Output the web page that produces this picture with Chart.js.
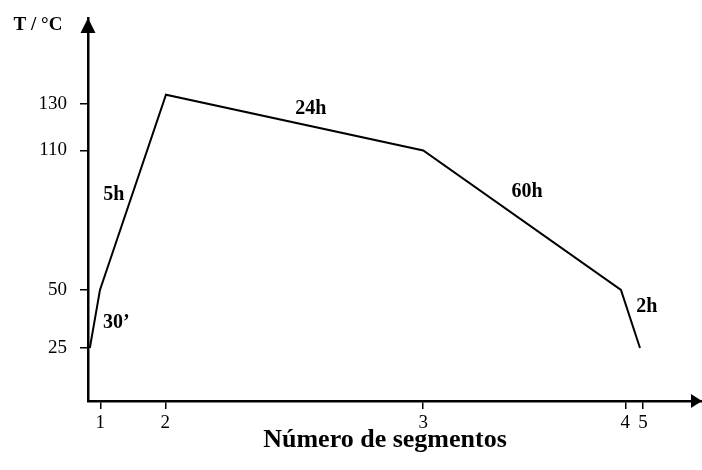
<!DOCTYPE html>
<html><head><meta charset="utf-8">
<script src="https://cdn.jsdelivr.net/npm/chart.js@4/dist/chart.umd.min.js"></script>
<style>html,body{margin:0;padding:0;background:#fff}#wrap{width:702px;height:470px;position:relative}</style>
</head><body><div id="wrap"><canvas id="c"></canvas></div>
<script>
// Data (schematic x positions along the time axis, temperature in °C)
const segmentTickLabels = ['1', '2', '3', '4', '5'];
const segmentTickPositions = [2.0, 12.6, 54.6, 87.5, 90.4];
const pointX = [0.3, 1.95, 12.7, 54.6, 86.8, 89.9];
const temperature = [25, 50, 134, 110, 50, 25];
const temperatureTicks = [25, 50, 110, 130];
const segmentDurations = ['30’', '5h', '24h', '60h', '2h'];
const durationX = [4.6, 4.2, 36.3, 71.5, 91.0];
const durationY = [36, 91, 128, 92, 42.6];

const SERIF = '"Liberation Serif", "Times New Roman", serif';

const annotations = {
  id: 'annotations',
  afterDraw(chart) {
    const {ctx, chartArea, scales} = chart;
    ctx.save();
    ctx.fillStyle = '#000';
    // axis arrows
    ctx.beginPath();
    ctx.moveTo(chartArea.left, chartArea.top);
    ctx.lineTo(chartArea.left - 7.5, chartArea.top + 15);
    ctx.lineTo(chartArea.left + 7.5, chartArea.top + 15);
    ctx.closePath();
    ctx.fill();
    ctx.beginPath();
    ctx.moveTo(chartArea.right, chartArea.bottom);
    ctx.lineTo(chartArea.right - 11, chartArea.bottom - 7);
    ctx.lineTo(chartArea.right - 11, chartArea.bottom + 7);
    ctx.closePath();
    ctx.fill();
    // segment duration labels
    ctx.font = 'bold 20px ' + SERIF;
    ctx.textAlign = 'center';
    ctx.textBaseline = 'middle';
    segmentDurations.forEach((t, i) => {
      ctx.fillText(t, scales.x.getPixelForValue(durationX[i]), scales.y.getPixelForValue(durationY[i]));
    });
    // axis titles
    ctx.font = 'bold 19px ' + SERIF;
    ctx.fillText('T / °C', 38, chartArea.top + 7);
    ctx.font = 'bold 26px ' + SERIF;
    ctx.fillText('Número de segmentos', 385, chartArea.bottom + 39);
    ctx.restore();
  }
};

new Chart(document.getElementById('c'), {
  type: 'scatter',
  data: {
    datasets: [{
      data: pointX.map((x, i) => ({x, y: temperature[i]})),
      showLine: true,
      borderColor: '#000',
      borderWidth: 2,
      pointRadius: 0,
      tension: 0,
      fill: false
    }]
  },
  options: {
    responsive: true,
    maintainAspectRatio: false,
    animation: false,
    layout: {padding: {top: 18, right: 0, bottom: 0, left: 0}},
    plugins: {legend: {display: false}, tooltip: {enabled: false}},
    scales: {
      x: {
        type: 'linear', min: 0, max: 100,
        afterFit(s) { s.height = 69; s.paddingLeft = 0; s.paddingRight = 0; },
        afterBuildTicks(s) { s.ticks = segmentTickPositions.map(v => ({value: v})); },
        grid: {display: true, drawOnChartArea: false, drawTicks: true, tickLength: 8, color: '#000', lineWidth: 1.5},
        border: {display: true, color: '#000', width: 2.5},
        ticks: {
          autoSkip: false, maxRotation: 0, padding: 3, color: '#000',
          font: {family: SERIF, size: 19},
          callback: (v, i) => segmentTickLabels[i]
        }
      },
      y: {
        type: 'linear', min: 2.2, max: 167,
        afterFit(s) { s.width = 88; s.paddingTop = 0; s.paddingBottom = 0; },
        afterBuildTicks(s) { s.ticks = temperatureTicks.map(v => ({value: v})); },
        grid: {display: true, drawOnChartArea: false, drawTicks: true, tickLength: 8, color: '#000', lineWidth: 1.5},
        border: {display: true, color: '#000', width: 2.5},
        ticks: {
          autoSkip: false, padding: 13, color: '#000',
          font: {family: SERIF, size: 19},
          callback: v => String(v)
        }
      }
    }
  },
  plugins: [annotations]
});
</script>
</body></html>
